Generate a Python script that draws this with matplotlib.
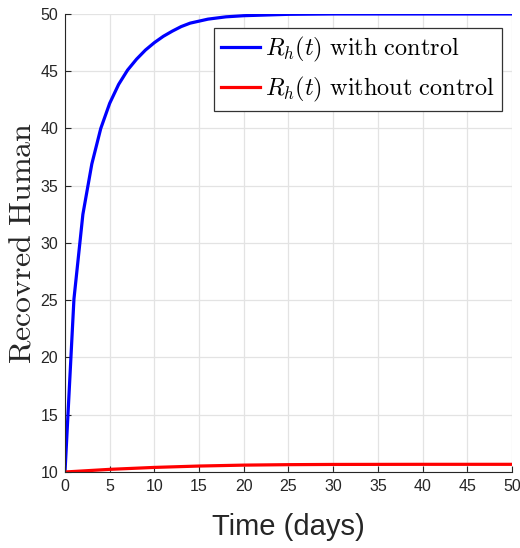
import numpy as np
import matplotlib
matplotlib.use("Agg")
import matplotlib.pyplot as plt

plt.rcParams['mathtext.fontset'] = 'cm'
plt.rcParams['font.family'] = ['Liberation Sans', 'DejaVu Sans']

# values
t_ctrl = [0, 1, 2, 3, 4, 5, 6, 7, 8, 9, 10, 11, 12, 13, 14, 16, 18, 20, 25, 30, 35, 40, 45, 50]
rh_ctrl = [10, 25.1, 32.5, 36.9, 40.0, 42.2, 43.85, 45.1, 46.05, 46.85, 47.5, 48.05, 48.5,
           48.9, 49.2, 49.55, 49.75, 49.85, 49.97, 50, 50, 50, 50, 50]
t_noctrl = [0, 5, 10, 15, 20, 25, 30, 40, 50]
rh_noctrl = [10, 10.23, 10.4, 10.52, 10.6, 10.64, 10.66, 10.67, 10.67]

labels = [r'$R_h(t)\ \mathrm{with\ control}$', r'$R_h(t)\ \mathrm{without\ control}$']

fig = plt.figure(figsize=(5.2, 5.48), dpi=100)
ax = fig.add_axes([0.125, 0.1387, 0.8596, 0.8358])

ax.plot(t_ctrl, rh_ctrl, color='#0000ff', lw=2.3, label=labels[0])
ax.plot(t_noctrl, rh_noctrl, color='#ff0000', lw=2.3, label=labels[1])

ax.set_xlim(0, 50)
ax.set_ylim(10, 50)
ax.set_xticks(np.arange(0, 51, 5))
ax.set_yticks(np.arange(10, 51, 5))
ax.grid(True, color='#e3e3e3', lw=0.9)
ax.set_axisbelow(True)
ax.tick_params(direction='in', length=4, width=0.8, labelsize=11.5,
               colors='#262626', pad=5)
for s in ['top', 'right']:
    ax.spines[s].set_visible(False)
for s in ['left', 'bottom']:
    ax.spines[s].set_color('#262626')
    ax.spines[s].set_linewidth(0.8)

ax.set_xlabel('Time (days)', fontsize=21, color='#262626', labelpad=14)
ax.set_ylabel(r'$\mathrm{Recovred\ Human}$', fontsize=23, color='#262626',
              va='center')
ax.yaxis.set_label_coords(-0.095, 0.5)

leg = ax.legend(loc='upper right', bbox_to_anchor=(0.978, 0.97), fontsize=17.5,
                fancybox=False, framealpha=1, edgecolor='#333333',
                handlelength=1.6, handletextpad=0.2, borderpad=0.3,
                labelspacing=0.45, borderaxespad=0)
leg.get_frame().set_linewidth(0.9)

fig.savefig('out.png', dpi=100)
